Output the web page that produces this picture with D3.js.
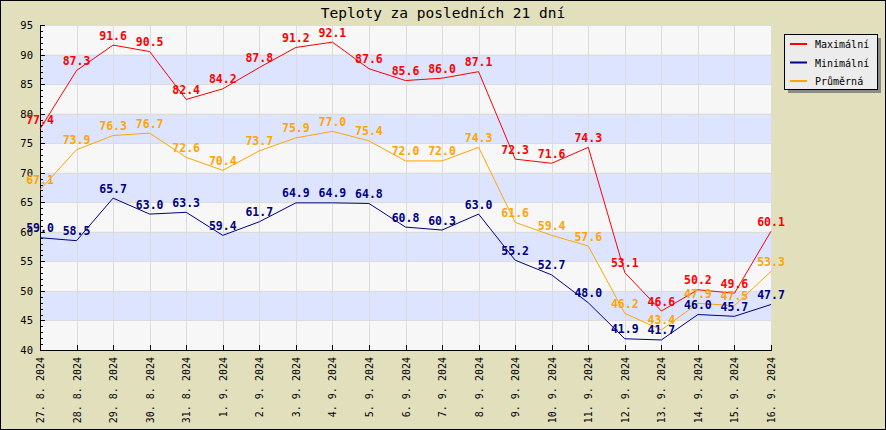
<!DOCTYPE html>
<html><head><meta charset="utf-8">
<script src="https://cdn.jsdelivr.net/npm/d3@7/dist/d3.min.js"></script>
<style>body{margin:0;background:#fff}svg{display:block}</style>
</head><body>
<script>
const dates = ["27. 8. 2024","28. 8. 2024","29. 8. 2024","30. 8. 2024","31. 8. 2024","1. 9. 2024","2. 9. 2024","3. 9. 2024","4. 9. 2024","5. 9. 2024","6. 9. 2024","7. 9. 2024","8. 9. 2024","9. 9. 2024","10. 9. 2024","11. 9. 2024","12. 9. 2024","13. 9. 2024","14. 9. 2024","15. 9. 2024","16. 9. 2024"];
const maxT = [77.4,87.3,91.6,90.5,82.4,84.2,87.8,91.2,92.1,87.6,85.6,86.0,87.1,72.3,71.6,74.3,53.1,46.6,50.2,49.6,60.1];
const minT = [59.0,58.5,65.7,63.0,63.3,59.4,61.7,64.9,64.9,64.8,60.8,60.3,63.0,55.2,52.7,48.0,41.9,41.7,46.0,45.7,47.7];
const avgT = [67.1,73.9,76.3,76.7,72.6,70.4,73.7,75.9,77.0,75.4,72.0,72.0,74.3,61.6,59.4,57.6,46.2,43.4,47.9,47.5,53.3];
const seriesNames = ["Maximální","Minimální","Průměrná"];
const yTicks = [40,45,50,55,60,65,70,75,80,85,90,95];
const title = "Teploty za posledních 21 dní";

const W=886,H=430;
const colors=["#ff0000","#000080","#ffa500"];
const series=[maxT,minT,avgT];
const svg=d3.select("body").append("svg").attr("width",W).attr("height",H);
const font="'DejaVu Sans Mono', 'Liberation Mono', monospace";
svg.append("rect").attr("x",0.5).attr("y",0.5).attr("width",W-1).attr("height",H-1).attr("fill","#e2dfbd").attr("stroke","#000");

const L=40,R=771,T=25,B=350;
const x=d3.scalePoint().domain(dates).range([L,R]);
const y=d3.scaleLinear().domain([40,95]).range([B,T]);

// bands
for(let i=0;i<yTicks.length-1;i++){
  const a=yTicks[i],b=yTicks[i+1];
  svg.append("rect").attr("x",L).attr("width",R-L).attr("y",y(b)).attr("height",y(a)-y(b))
    .attr("fill",(a/5)%2===1?"#dde4ff":"#f7f7f7");
}
// grid
const g=svg.append("g").attr("stroke","#dcdcdc").attr("stroke-width",1);
yTicks.forEach(v=>{ if(v>40) g.append("line").attr("x1",L).attr("x2",R).attr("y1",Math.round(y(v))+0.5).attr("y2",Math.round(y(v))+0.5);});
dates.forEach((d,i)=>{ if(i>0) g.append("line").attr("x1",Math.round(x(d))+0.5).attr("x2",Math.round(x(d))+0.5).attr("y1",T).attr("y2",B);});

// axes
const ax=svg.append("g").attr("stroke","#000");
ax.append("line").attr("x1",L+0.5).attr("x2",L+0.5).attr("y1",T).attr("y2",B+0.5);
ax.append("line").attr("x1",L).attr("x2",R+1).attr("y1",B+0.5).attr("y2",B+0.5);
d3.range(40,96).forEach(v=>{
  const yy=Math.round(y(v))+0.5;
  ax.append("line").attr("x1",L).attr("x2",L+(v%5===0?5:3)).attr("y1",yy).attr("y2",yy);
});
dates.forEach(d=>{
  const xx=Math.round(x(d))+0.5;
  ax.append("line").attr("x1",xx).attr("x2",xx).attr("y1",B).attr("y2",B-5);
});
svg.append("g").selectAll("text").data(yTicks).join("text")
  .attr("x",33).attr("y",v=>y(v)+4).attr("text-anchor","end")
  .attr("font-family",font).attr("font-size",10.5).text(v=>v);
svg.append("g").selectAll("text").data(dates).join("text")
  .attr("transform",d=>`translate(${x(d)+4},${B+7}) rotate(-90)`).attr("text-anchor","end")
  .attr("font-family",font).attr("font-size",10).text(d=>d);

// lines
const line=d3.line().x((v,i)=>x(dates[i])).y(v=>y(v));
series.forEach((s,k)=>{
  svg.append("path").attr("d",line(s)).attr("fill","none").attr("stroke",colors[k]).attr("stroke-width",1);
});
series.forEach((s,k)=>{
  svg.append("g").selectAll("text").data(s).join("text")
    .attr("x",(v,i)=>x(dates[i])).attr("y",v=>y(v)-5.5).attr("text-anchor","middle")
    .attr("font-family",font).attr("font-size",11.5).attr("font-weight","bold")
    .attr("fill",colors[k]).text(v=>v.toFixed(1));
});

// title
svg.append("text").attr("x",443).attr("y",18).attr("text-anchor","middle")
  .attr("font-family",font).attr("font-size",14.5).text(title);

// legend
const lg=svg.append("g");
lg.append("rect").attr("x",788).attr("y",38).attr("width",93).attr("height",55).attr("fill","#8a8a8a");
lg.append("rect").attr("x",784.5).attr("y",34.5).attr("width",93).attr("height",55).attr("fill","#ececec").attr("stroke","#000");
seriesNames.forEach((n,i)=>{
  const yy=44+i*18.5;
  lg.append("line").attr("x1",790).attr("x2",807).attr("y1",yy).attr("y2",yy).attr("stroke",colors[i]).attr("stroke-width",2);
  lg.append("text").attr("x",815).attr("y",yy+4).attr("font-family",font).attr("font-size",10).text(n);
});
</script>
</body></html>
